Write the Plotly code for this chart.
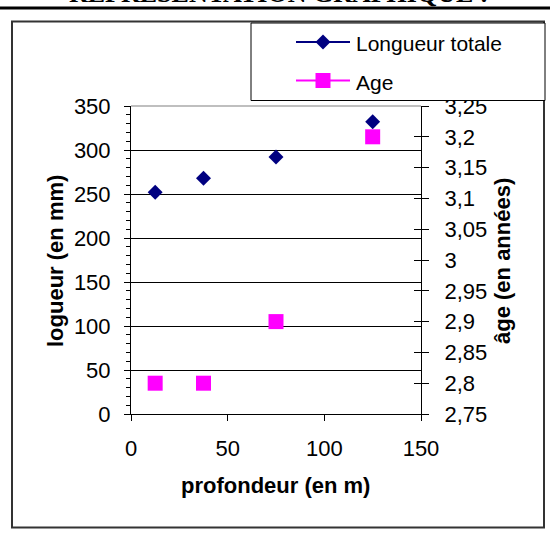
import plotly.graph_objects as go

# ---- data ----
depth = [12.5, 37.5, 75, 125]
longueur = [252, 268, 292, 332]
age = [2.8, 2.8, 2.9, 3.2]

x_ticks = [0, 50, 100, 150]
len_ticks = [0, 50, 100, 150, 200, 250, 300, 350]
age_ticks = [2.75, 2.8, 2.85, 2.9, 2.95, 3.0, 3.05, 3.1, 3.15, 3.2, 3.25]
age_tick_labels = ["2,75", "2,8", "2,85", "2,9", "2,95", "3", "3,05", "3,1", "3,15", "3,2", "3,25"]

series_names = ["Longueur totale", "Age"]
x_title = "profondeur (en m)"
y_title = "logueur (en mm)"
y2_title = "âge (en années)"
page_title = "REPRESENTATION GRAPHIQUE :"

NAVY = "#000080"
MAGENTA = "#FF00FF"
FONT = "Liberation Sans, Arial, sans-serif"

W, H = 550, 534
L, R, T, B = 131, 421, 106, 414  # plot area in pixels


def PX(x):
    return (x - L) / (R - L)


def PY(y):
    return (B - y) / (B - T)


fig = go.Figure()
fig.add_trace(go.Scatter(x=depth, y=longueur, mode="markers", name=series_names[0],
                         marker=dict(symbol="diamond", size=11.5, color=NAVY),
                         showlegend=False))
fig.add_trace(go.Scatter(x=depth, y=age, mode="markers", name=series_names[1], yaxis="y2",
                         marker=dict(symbol="square", size=15, color=MAGENTA),
                         showlegend=False))
# empty trace so the inner-tick overlay axis is drawn
fig.add_trace(go.Scatter(x=[None], y=[None], yaxis="y3", showlegend=False, hoverinfo="skip"))

tickfont = dict(family=FONT, size=22, color="black")

fig.update_layout(
    width=W, height=H,
    margin=dict(l=L, r=W - R, t=T, b=H - B, pad=0),
    paper_bgcolor="white", plot_bgcolor="white",
    showlegend=False,
    xaxis=dict(range=[0, 150], tickvals=x_ticks, showgrid=False, zeroline=False,
               showline=True, linecolor="black", linewidth=1,
               ticks="outside", ticklen=6, tickcolor="black", tickfont=tickfont,
               ticklabelstandoff=9),
    yaxis=dict(range=[0, 350], tickvals=len_ticks, showgrid=True, gridcolor="black", gridwidth=1,
               zeroline=False, showline=True, linecolor="black", linewidth=1,
               ticks="outside", ticklen=6, tickcolor="black", tickfont=tickfont,
               ticklabelstandoff=9,
               minor=dict(dtick=10, ticks="outside", ticklen=4, tickcolor="black", showgrid=False)),
    yaxis2=dict(range=[2.75, 3.25], overlaying="y", side="right", anchor="x",
                tickvals=age_ticks, ticktext=age_tick_labels, showgrid=False, zeroline=False,
                showline=True, linecolor="black", linewidth=1,
                ticks="outside", ticklen=7, tickcolor="black", tickfont=tickfont,
                ticklabelstandoff=11),
    yaxis3=dict(range=[2.75, 3.25], overlaying="y", side="right", anchor="x",
                tickvals=age_ticks, showticklabels=False, showgrid=False, zeroline=False,
                showline=False, ticks="inside", ticklen=7, tickcolor="black"),
)

shapes = []
# top border of plot area (grey)
shapes.append(dict(type="line", xref="paper", yref="paper", x0=0, x1=1, y0=1, y1=1,
                   line=dict(color="#bfbfbf", width=2)))
# outer chart frame
shapes.append(dict(type="rect", xref="paper", yref="paper",
                   x0=PX(12), x1=PX(544), y0=PY(527.5), y1=PY(21.5),
                   line=dict(color="#333333", width=2)))
# page rule at top
shapes.append(dict(type="line", xref="paper", yref="paper",
                   x0=PX(0), x1=PX(550), y0=PY(8), y1=PY(8),
                   line=dict(color="black", width=3)))
# legend box
shapes.append(dict(type="rect", xref="paper", yref="paper",
                   x0=PX(251), x1=PX(545), y0=PY(100.5), y1=PY(23),
                   line=dict(color="black", width=1), fillcolor="white", layer="above"))
# legend samples
leg_y = [42, 80.5]
leg_col = [NAVY, MAGENTA]
for yy, col in zip(leg_y, leg_col):
    shapes.append(dict(type="line", xref="paper", yref="paper",
                       x0=PX(296), x1=PX(350), y0=PY(yy), y1=PY(yy),
                       line=dict(color=col, width=2)))
cx = 323
d = 7.5
shapes.append(dict(type="path", xref="paper", yref="paper",
                   path=f"M {PX(cx)},{PY(leg_y[0]-d)} L {PX(cx+d)},{PY(leg_y[0])} L {PX(cx)},{PY(leg_y[0]+d)} L {PX(cx-d)},{PY(leg_y[0])} Z",
                   fillcolor=NAVY, line=dict(color=NAVY, width=0)))
shapes.append(dict(type="rect", xref="paper", yref="paper",
                   x0=PX(cx - 7.5), x1=PX(cx + 7.5), y0=PY(leg_y[1] + 7.5), y1=PY(leg_y[1] - 7.5),
                   fillcolor=MAGENTA, line=dict(color=MAGENTA, width=0)))
fig.update_layout(shapes=shapes)

titlefont = dict(family=FONT, size=22, color="black", weight="bold")
annotations = [
    dict(text=x_title, x=PX(275.5), y=PY(485), xref="paper", yref="paper",
         showarrow=False, xanchor="center", yanchor="middle", font=titlefont),
    dict(text=y_title, x=PX(55), y=PY(261), xref="paper", yref="paper", textangle=-90,
         showarrow=False, xanchor="center", yanchor="middle", font=titlefont),
    dict(text=y2_title, x=PX(502), y=PY(261), xref="paper", yref="paper", textangle=-90,
         showarrow=False, xanchor="center", yanchor="middle", font=titlefont),
    dict(text=page_title, x=PX(278), y=PY(9.5), xref="paper", yref="paper",
         showarrow=False, xanchor="center", yanchor="bottom",
         font=dict(family="Liberation Serif, Times New Roman, serif", size=26, color="black", weight="bold")),
]
for yy, name in zip(leg_y, series_names):
    annotations.append(dict(text=name, x=PX(354), y=PY(yy + 1.5), xref="paper", yref="paper",
                            showarrow=False, xanchor="left", yanchor="middle",
                            font=dict(family=FONT, size=21, color="black")))
fig.update_layout(annotations=annotations)

fig.write_html("out.html", config={"displayModeBar": False},
               post_script="document.body.style.margin='0';document.body.style.overflow='hidden';")
